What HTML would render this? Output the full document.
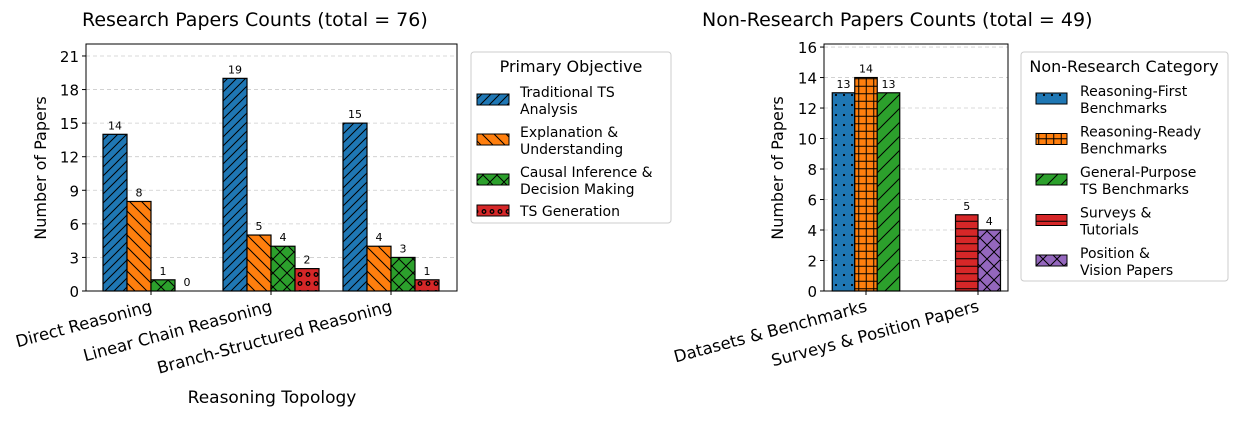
<!DOCTYPE html>
<html><head><meta charset="utf-8"><style>
body{margin:0;background:#fff;}
svg text{font-family:"DejaVu Sans","Liberation Sans",sans-serif;fill:#000;}
</style></head><body>
<svg id="chart" width="1238" height="416" viewBox="0 0 1238 416" xmlns="http://www.w3.org/2000/svg">
<defs>
<pattern id="pFwd" width="9" height="9" patternUnits="userSpaceOnUse"><rect width="9" height="9" fill="#1f77b4"/><path d="M-1,10 L10,-1 M-3,3 L3,-3 M6,12 L12,6" stroke="#000" stroke-width="1"/></pattern>
<pattern id="pBack" width="12" height="12" patternUnits="userSpaceOnUse"><rect width="12" height="12" fill="#ff7f0e"/><path d="M-1,-1 L13,13 M-4,8 L4,16 M8,-4 L16,4" stroke="#000" stroke-width="1"/></pattern>
<pattern id="pX" width="14" height="14" patternUnits="userSpaceOnUse"><rect width="14" height="14" fill="#2ca02c"/><path d="M0,0 L14,14 M14,0 L0,14" stroke="#000" stroke-width="1"/></pattern>
<pattern id="pO" width="8" height="9" patternUnits="userSpaceOnUse"><rect width="8" height="9" fill="#d62728"/><circle cx="4" cy="4.5" r="1.8" fill="none" stroke="#000" stroke-width="1.3"/></pattern>
<pattern id="pDot" width="8" height="10" patternUnits="userSpaceOnUse"><rect width="8" height="10" fill="#1f77b4"/><circle cx="4" cy="5" r="1.1" fill="#000"/></pattern>
<pattern id="pPlus" width="7.5" height="7.5" patternUnits="userSpaceOnUse"><rect width="7.5" height="7.5" fill="#ff7f0e"/><path d="M3.75,0 V7.5 M0,3.75 H7.5" stroke="#000" stroke-width="1"/></pattern>
<pattern id="pFwdG" width="14" height="14" patternUnits="userSpaceOnUse"><rect width="14" height="14" fill="#2ca02c"/><path d="M-1,15 L15,-1 M-3,3 L3,-3 M11,17 L17,11" stroke="#000" stroke-width="1"/></pattern>
<pattern id="pH" width="8" height="7.5" patternUnits="userSpaceOnUse"><rect width="8" height="7.5" fill="#d62728"/><path d="M0,3.75 H8" stroke="#000" stroke-width="1"/></pattern>
<pattern id="pXP" width="14" height="14" patternUnits="userSpaceOnUse"><rect width="14" height="14" fill="#9467bd"/><path d="M0,0 L14,14 M14,0 L0,14" stroke="#000" stroke-width="1"/></pattern>
</defs>
<g id="left"></g><g id="right"></g>
</svg>
<script>
const NS="http://www.w3.org/2000/svg";
// Left chart data
const leftCategories=["Direct Reasoning","Linear Chain Reasoning","Branch-Structured Reasoning"];
const leftSeriesNames=["Traditional TS Analysis","Explanation & Understanding","Causal Inference & Decision Making","TS Generation"];
const leftTraditional=[14,19,15];
const leftExplanation=[8,5,4];
const leftCausal=[1,4,3];
const leftGeneration=[0,2,1];
const leftTicks=[0,3,6,9,12,15,18,21];
// Right chart data
const rightCategories=["Datasets & Benchmarks","Surveys & Position Papers"];
const rightSeriesNames=["Reasoning-First Benchmarks","Reasoning-Ready Benchmarks","General-Purpose TS Benchmarks","Surveys & Tutorials","Position & Vision Papers"];
const rightReasoningFirst=[13,0];
const rightReasoningReady=[14,0];
const rightGeneralPurpose=[13,0];
const rightSurveys=[0,5];
const rightPosition=[0,4];
const rightTicks=[0,2,4,6,8,10,12,14,16];

function el(tag,attrs,parent,text){const e=document.createElementNS(NS,tag);for(const k in attrs)e.setAttribute(k,attrs[k]);if(text!==undefined)e.textContent=text;parent.appendChild(e);return e;}

function drawAxes(g,x0,x1,y0,y1,ymax,ticks,yfn){
  for(const t of ticks){const y=yfn(t);
    if(t>0){const gl=el('line',{x1:x0,x2:x1,y1:y,y2:y,stroke:'#ccc','stroke-dasharray':'4,3','stroke-width':0.8},g);
    }
    el('line',{x1:x0-4,x2:x0,y1:y,y2:y,stroke:'#000'},g);
    const tl=el('text',{x:x0-7,y:y+6,'text-anchor':'end','font-size':15},g,String(t));
    }
}

// LEFT
(function(){
  const g=document.getElementById('left');
  const X0=86,X1=457,Y0=291,Y1=44,YMAX=22.07;
  const y=v=>Y0-v*(Y0-Y1)/YMAX;
  const cx=i=>151+i*120;const bw=24;
  drawAxes(g,X0,X1,Y0,Y1,YMAX,leftTicks,y);
  const series=[leftTraditional,leftExplanation,leftCausal,leftGeneration];
  const fills=['url(#pFwd)','url(#pBack)','url(#pX)','url(#pO)'];
  series.forEach((s,si)=>{s.forEach((v,i)=>{
    const bx=cx(i)+(si-2)*bw;
    const r=el('rect',{x:bx,y:y(v),width:bw,height:Y0-y(v),fill:fills[si],stroke:'#000','stroke-width':1.2},g);
    
    const t=el('text',{x:bx+bw/2,y:y(v)-5,'text-anchor':'middle','font-size':11},g,String(v));
    
  });});
  el('rect',{x:X0,y:Y1,width:X1-X0,height:Y0-Y1,fill:'none',stroke:'#000','stroke-width':1},g);
  leftCategories.forEach((c,i)=>{const x=cx(i);
    el('line',{x1:x,x2:x,y1:Y0,y2:Y0+4,stroke:'#000'},g);
    const t=el('text',{x:x+2,y:Y0+20,'text-anchor':'end','font-size':16.5,transform:`rotate(-15 ${x+2} ${Y0+20})`},g,c);
    });
  let t=el('text',{x:82,y:26,'font-size':19},g,'Research Papers Counts (total = 76)');
  t=el('text',{x:272,y:403,'text-anchor':'middle','font-size':17},g,'Reasoning Topology');
  t=el('text',{x:46,y:168,'text-anchor':'middle','font-size':16,transform:'rotate(-90 46 168)'},g,'Number of Papers');
  const lg=el('g',{},g);
  el('rect',{x:471,y:52,width:200,height:171,rx:3,fill:'#fff',stroke:'#ccc'},lg);
  el('text',{x:571,y:72,'text-anchor':'middle','font-size':16},lg,'Primary Objective');
  const lines=[["Traditional TS","Analysis"],["Explanation &","Understanding"],["Causal Inference &","Decision Making"],["TS Generation"]];
  const ys=[100,140,180,211];
  lines.forEach((L,i)=>{const yy=ys[i];
    const p=el('rect',{x:477,y:yy-6,width:32,height:11,fill:fills[i],stroke:'#000'},lg);
    if(L.length==1)el('text',{x:520,y:yy+5,'font-size':14},lg,L[0]);
    else{el('text',{x:520,y:yy-3,'font-size':14},lg,L[0]);el('text',{x:520,y:yy+14,'font-size':14},lg,L[1]);}
  });
})();

// RIGHT
(function(){
  const g=document.getElementById('right');
  const X0=824,X1=1008,Y0=291,Y1=44,YMAX=16.2;
  const y=v=>Y0-v*(Y0-Y1)/YMAX;const bw=22.5;
  drawAxes(g,X0,X1,Y0,Y1,YMAX,rightTicks,y);
  const series=[rightReasoningFirst,rightReasoningReady,rightGeneralPurpose,rightSurveys,rightPosition];
  const fills=['url(#pDot)','url(#pPlus)','url(#pFwdG)','url(#pH)','url(#pXP)'];
  const centers=[866,978];
  rightCategories.forEach((c,i)=>{
    const present=series.map((s,si)=>si).filter(si=>series[si][i]>0);
    present.forEach((si,k)=>{const v=series[si][i];
      const bx=centers[i]+(k-present.length/2)*bw;
      const r=el('rect',{x:bx,y:y(v),width:bw,height:Y0-y(v),fill:fills[si],stroke:'#000','stroke-width':1.2},g);
      
      const t=el('text',{x:bx+bw/2,y:y(v)-5,'text-anchor':'middle','font-size':11},g,String(v));
      
    });
    el('line',{x1:centers[i],x2:centers[i],y1:Y0,y2:Y0+4,stroke:'#000'},g);
    const t=el('text',{x:centers[i]+2,y:Y0+20,'text-anchor':'end','font-size':16.5,transform:`rotate(-15 ${centers[i]+2} ${Y0+20})`},g,c);
    
  });
  el('rect',{x:X0,y:Y1,width:X1-X0,height:Y0-Y1,fill:'none',stroke:'#000','stroke-width':1},g);
  let t=el('text',{x:702,y:26,'font-size':19},g,'Non-Research Papers Counts (total = 49)');
  t=el('text',{x:783,y:168,'text-anchor':'middle','font-size':16,transform:'rotate(-90 783 168)'},g,'Number of Papers');
  const lg=el('g',{},g);
  el('rect',{x:1021,y:52,width:207,height:229,rx:3,fill:'#fff',stroke:'#ccc'},lg);
  el('text',{x:1124,y:72,'text-anchor':'middle','font-size':16},lg,'Non-Research Category');
  const lines=[["Reasoning-First","Benchmarks"],["Reasoning-Ready","Benchmarks"],["General-Purpose","TS Benchmarks"],["Surveys &","Tutorials"],["Position &","Vision Papers"]];
  lines.forEach((L,i)=>{const yy=99+i*40.5;
    const p=el('rect',{x:1036,y:yy-6,width:31,height:11,fill:fills[i],stroke:'#000'},lg);
    el('text',{x:1080,y:yy-3,'font-size':14},lg,L[0]);el('text',{x:1080,y:yy+14,'font-size':14},lg,L[1]);
  });
})();
</script>
</body></html>
